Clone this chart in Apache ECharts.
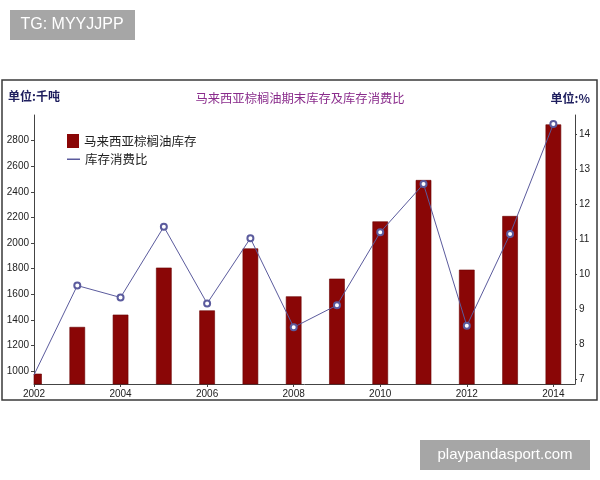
<!DOCTYPE html>
<html>
<head>
<meta charset="utf-8">
<script src="https://cdn.jsdelivr.net/npm/echarts@6/dist/echarts.min.js"></script>
<style>
html,body{margin:0;padding:0;background:#fff;}
#main{width:600px;height:480px;}
</style>
</head>
<body>
<div id="main"></div>
<script>
const years = [2002,2003,2004,2005,2006,2007,2008,2009,2010,2011,2012,2013,2014];
const stock = [978,1343,1439,1806,1472,1956,1582,1720,2167,2490,1790,2209,2924];
const ratio = [7.12,9.67,9.33,11.35,9.16,11.02,8.48,9.11,11.19,12.57,8.52,11.14,14.28];
const xTicks = [2002,2004,2006,2008,2010,2012,2014];
const leftTicks = [1000,1200,1400,1600,1800,2000,2200,2400,2600,2800];
const rightTicks = [7,8,9,10,11,12,13,14];
const barName = '马来西亚棕榈油库存';
const lineName = '库存消费比';
const titleText = '马来西亚棕榈油期末库存及库存消费比';
const leftUnit = '单位:千吨';
const rightUnit = '单位:%';

const chart = echarts.init(document.getElementById('main'), null, {renderer:'canvas'});
const numFont = '"Liberation Sans Narrow","Arial Narrow","Liberation Sans",sans-serif';
const cjk = '"Noto Sans CJK SC","Noto Sans",sans-serif';
const axisColor = '#444';
const lineColor = '#5b5b9d';
const barColor = '#8a0606';
const leftMin = 900;
const plain = v => String(v);

function renderBar(params, api) {
  const x = api.value(0), v = api.value(1);
  const top = api.coord([x, v]);
  const base = api.coord([x, leftMin]);
  const w = 15;
  const rect = {x: top[0] - w / 2, y: top[1], width: w, height: base[1] - top[1]};
  const cs = params.coordSys;
  const clipped = echarts.graphic.clipRectByRect(rect, {x: cs.x, y: cs.y, width: cs.width, height: cs.height});
  if (!clipped) return null;
  return {type:'rect', shape: clipped, style: {fill: barColor, stroke:'#6a0000', lineWidth:0.6}};
}

chart.setOption({
  animation:false,
  backgroundColor:'#fff',
  grid:{left:34, right:25, top:115, bottom:96, containLabel:false},
  legend:[
    {data:[{name:barName, icon:'rect'}], left:67, top:134, padding:0, itemWidth:12, itemHeight:14,
     itemStyle:{color:barColor},
     textStyle:{fontFamily:cjk, fontSize:12.5, color:'#222'}},
    {data:[{name:lineName, icon:'rect'}], left:67, top:153, padding:0, itemWidth:13, itemHeight:1.5,
     itemStyle:{color:lineColor},
     textStyle:{fontFamily:cjk, fontSize:12.5, color:'#222'}}
  ],
  xAxis:{
    type:'value', min:2002, max:2014.5,
    splitLine:{show:false},
    axisLine:{lineStyle:{color:axisColor, width:1}},
    axisTick:{show:true, length:3, customValues:xTicks, lineStyle:{color:axisColor}},
    axisLabel:{customValues:xTicks, formatter:plain, margin:5, fontFamily:numFont, fontSize:10, color:'#222'}
  },
  yAxis:[
    {type:'value', position:'left', min:leftMin, max:3000,
     splitLine:{show:false},
     axisLine:{show:true, lineStyle:{color:axisColor, width:1}},
     axisTick:{show:true, length:3, customValues:leftTicks, lineStyle:{color:axisColor}},
     axisLabel:{customValues:leftTicks, formatter:plain, margin:5, fontFamily:numFont, fontSize:10, color:'#222'}},
    {type:'value', position:'right', min:6.86, max:14.54,
     splitLine:{show:false},
     axisLine:{show:true, lineStyle:{color:axisColor, width:1}},
     axisTick:{show:true, length:2, customValues:rightTicks, lineStyle:{color:axisColor}},
     axisLabel:{customValues:rightTicks, formatter:plain, margin:4, fontFamily:numFont, fontSize:10, color:'#222'}}
  ],
  series:[
    {name:barName, type:'custom', yAxisIndex:0, renderItem:renderBar,
     itemStyle:{color:barColor},
     encode:{x:0, y:1},
     data: years.map((y,i)=>[y, stock[i]])},
    {name:lineName, type:'line', yAxisIndex:1, symbol:'emptyCircle', symbolSize:6, z:3,
     lineStyle:{color:lineColor, width:1},
     itemStyle:{color:lineColor, borderWidth:1},
     data: years.map((y,i)=> i===0 ? {value:[y, ratio[i]], symbol:'none'} : [y, ratio[i]])}
  ],
  graphic:[
    {type:'rect', shape:{x:2, y:80, width:595, height:320}, style:{fill:'none', stroke:'#3a3a3a', lineWidth:1.5}, z:0},
    {type:'text', left:8, top:90, style:{text:leftUnit, font:'bold 12px '+cjk, fill:'#1e1e5e'}},
    {type:'text', x:300, y:98, style:{text:titleText, font:'12.3px '+cjk, fill:'#8a2c8c', align:'center', verticalAlign:'middle'}},
    {type:'text', x:590, y:98, style:{text:rightUnit, font:'bold 12px '+cjk, fill:'#1e1e5e', align:'right', verticalAlign:'middle'}},
    {type:'rect', shape:{x:10, y:10, width:125, height:30}, style:{fill:'#a6a6a6'}},
    {type:'text', x:72, y:25, style:{text:'TG: MYYJJPP', font:'16px "Liberation Sans",Arial,sans-serif', fill:'#fff', align:'center', verticalAlign:'middle'}},
    {type:'rect', shape:{x:420, y:440, width:170, height:30}, style:{fill:'#a6a6a6'}},
    {type:'text', x:505, y:455, style:{text:'playpandasport.com', font:'15px "Liberation Sans",Arial,sans-serif', fill:'#fff', align:'center', verticalAlign:'middle'}}
  ]
});
</script>
</body>
</html>
